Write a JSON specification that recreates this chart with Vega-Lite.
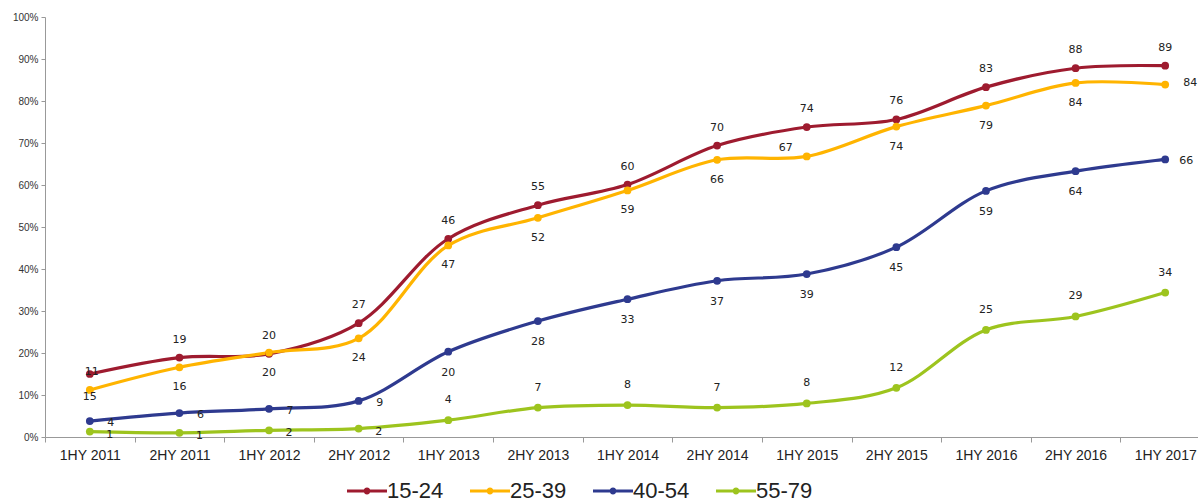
{
  "$schema": "https://vega.github.io/schema/vega-lite/v6.json",
  "autosize": "none",
  "padding": {"left": 45, "top": 17, "right": 0, "bottom": 66},
  "width": 1165,
  "height": 420,
  "background": "white",
  "config": {"view": {"stroke": null}, "font": "Liberation Sans"},
  "data": {"values": [
    {"period": "1HY 2011", "group": "15-24", "value": 15, "label": "11"},
    {"period": "2HY 2011", "group": "15-24", "value": 18.9, "label": "19"},
    {"period": "1HY 2012", "group": "15-24", "value": 19.8, "label": "20"},
    {"period": "2HY 2012", "group": "15-24", "value": 27.1, "label": "27"},
    {"period": "1HY 2013", "group": "15-24", "value": 47.2, "label": "46"},
    {"period": "2HY 2013", "group": "15-24", "value": 55.2, "label": "55"},
    {"period": "1HY 2014", "group": "15-24", "value": 60.1, "label": "60"},
    {"period": "2HY 2014", "group": "15-24", "value": 69.4, "label": "70"},
    {"period": "1HY 2015", "group": "15-24", "value": 73.8, "label": "74"},
    {"period": "2HY 2015", "group": "15-24", "value": 75.6, "label": "76"},
    {"period": "1HY 2016", "group": "15-24", "value": 83.3, "label": "83"},
    {"period": "2HY 2016", "group": "15-24", "value": 87.8, "label": "88"},
    {"period": "1HY 2017", "group": "15-24", "value": 88.4, "label": "89"},
    {"period": "1HY 2011", "group": "25-39", "value": 11.2, "label": "15"},
    {"period": "2HY 2011", "group": "25-39", "value": 16.6, "label": "16"},
    {"period": "1HY 2012", "group": "25-39", "value": 20.1, "label": "20"},
    {"period": "2HY 2012", "group": "25-39", "value": 23.5, "label": "24"},
    {"period": "1HY 2013", "group": "25-39", "value": 45.6, "label": "47"},
    {"period": "2HY 2013", "group": "25-39", "value": 52.2, "label": "52"},
    {"period": "1HY 2014", "group": "25-39", "value": 58.7, "label": "59"},
    {"period": "2HY 2014", "group": "25-39", "value": 66, "label": "66"},
    {"period": "1HY 2015", "group": "25-39", "value": 66.8, "label": "67"},
    {"period": "2HY 2015", "group": "25-39", "value": 73.9, "label": "74"},
    {"period": "1HY 2016", "group": "25-39", "value": 78.9, "label": "79"},
    {"period": "2HY 2016", "group": "25-39", "value": 84.3, "label": "84"},
    {"period": "1HY 2017", "group": "25-39", "value": 83.9, "label": "84"},
    {"period": "1HY 2011", "group": "40-54", "value": 3.8, "label": "4"},
    {"period": "2HY 2011", "group": "40-54", "value": 5.7, "label": "6"},
    {"period": "1HY 2012", "group": "40-54", "value": 6.7, "label": "7"},
    {"period": "2HY 2012", "group": "40-54", "value": 8.6, "label": "9"},
    {"period": "1HY 2013", "group": "40-54", "value": 20.3, "label": "20"},
    {"period": "2HY 2013", "group": "40-54", "value": 27.6, "label": "28"},
    {"period": "1HY 2014", "group": "40-54", "value": 32.8, "label": "33"},
    {"period": "2HY 2014", "group": "40-54", "value": 37.2, "label": "37"},
    {"period": "1HY 2015", "group": "40-54", "value": 38.8, "label": "39"},
    {"period": "2HY 2015", "group": "40-54", "value": 45.2, "label": "45"},
    {"period": "1HY 2016", "group": "40-54", "value": 58.6, "label": "59"},
    {"period": "2HY 2016", "group": "40-54", "value": 63.3, "label": "64"},
    {"period": "1HY 2017", "group": "40-54", "value": 66.1, "label": "66"},
    {"period": "1HY 2011", "group": "55-79", "value": 1.3, "label": "1"},
    {"period": "2HY 2011", "group": "55-79", "value": 1.0, "label": "1"},
    {"period": "1HY 2012", "group": "55-79", "value": 1.6, "label": "2"},
    {"period": "2HY 2012", "group": "55-79", "value": 2.0, "label": "2"},
    {"period": "1HY 2013", "group": "55-79", "value": 4.0, "label": "4"},
    {"period": "2HY 2013", "group": "55-79", "value": 7.0, "label": "7"},
    {"period": "1HY 2014", "group": "55-79", "value": 7.6, "label": "8"},
    {"period": "2HY 2014", "group": "55-79", "value": 7.0, "label": "7"},
    {"period": "1HY 2015", "group": "55-79", "value": 8.0, "label": "8"},
    {"period": "2HY 2015", "group": "55-79", "value": 11.7, "label": "12"},
    {"period": "1HY 2016", "group": "55-79", "value": 25.5, "label": "25"},
    {"period": "2HY 2016", "group": "55-79", "value": 28.7, "label": "29"},
    {"period": "1HY 2017", "group": "55-79", "value": 34.4, "label": "34"}
  ]},
  "encoding": {
    "x": {
      "field": "period", "type": "ordinal", "sort": null,
      "scale": {"type": "band", "paddingInner": 0, "paddingOuter": 0},
      "axis": {
        "title": null, "labelAngle": 0, "labelFontSize": 14, "labelColor": "#222",
        "labelFont": "Liberation Sans", "labelPadding": 6,
        "domainColor": "#999", "tickColor": "#999", "tickSize": 5, "tickBand": "extent",
        "grid": false
      }
    },
    "y": {
      "field": "value", "type": "quantitative",
      "scale": {"domain": [0, 100], "nice": false, "zero": true},
      "axis": {
        "title": null, "values": [0, 10, 20, 30, 40, 50, 60, 70, 80, 90, 100],
        "labelExpr": "datum.value + '%'", "labelFontSize": 10, "labelColor": "#333",
        "domainColor": "#999", "tickColor": "#999", "tickSize": 4, "labelPadding": 3,
        "grid": false
      }
    },
    "color": {
      "field": "group", "type": "nominal",
      "scale": {"domain": ["15-24", "25-39", "40-54", "55-79"], "range": ["#9E1B2F", "#FFB400", "#2E3A8F", "#9DC41E"]},
      "legend": {
        "title": null, "orient": "none", "legendX": 302, "legendY": 454,
        "direction": "horizontal", "labelFontSize": 22, "labelColor": "#222",
        "symbolType": "M-1,-0.08L1,-0.08L1,0.08L-1,0.08Z M0.17,0A0.17,0.17 0 1,1 -0.17,0A0.17,0.17 0 1,1 0.17,0Z",
        "symbolSize": 1600, "symbolStrokeWidth": 0, "labelOffset": 0, "columnPadding": 26,
        "encode": {"symbols": {"update": {"fill": {"scale": "color", "field": "value"}, "stroke": {"value": "transparent"}, "opacity": {"value": 1}}}}
      }
    }
  },
  "layer": [
    {"mark": {"type": "line", "interpolate": "catmull-rom", "strokeWidth": 3.2}},
    {"mark": {"type": "point", "shape": "circle", "filled": true, "size": 60, "opacity": 1}},
    {
      "transform": [{"filter": "datum.group == '15-24' && datum.period != '1HY 2011'"}],
      "mark": {"type": "text", "dy": -18, "fontSize": 11, "font": "DejaVu Sans", "color": "#222"},
      "encoding": {"text": {"field": "label"}, "color": {"value": "#222"}}
    },
    {
      "transform": [{"filter": "datum.group == '15-24' && datum.period == '1HY 2011'"}],
      "mark": {"type": "text", "dy": -2, "dx": 2, "fontSize": 11, "font": "DejaVu Sans", "color": "#222"},
      "encoding": {"text": {"field": "label"}, "color": {"value": "#222"}}
    },
    {
      "transform": [{"filter": "datum.group == '25-39' && indexof(['1HY 2011','1HY 2015','1HY 2017'], datum.period) < 0"}],
      "mark": {"type": "text", "dy": 20, "fontSize": 11, "font": "DejaVu Sans", "color": "#222"},
      "encoding": {"text": {"field": "label"}, "color": {"value": "#222"}}
    },
    {
      "transform": [{"filter": "datum.group == '25-39' && datum.period == '1HY 2011'"}],
      "mark": {"type": "text", "dy": 7, "fontSize": 11, "font": "DejaVu Sans", "color": "#222"},
      "encoding": {"text": {"field": "label"}, "color": {"value": "#222"}}
    },
    {
      "transform": [{"filter": "datum.group == '25-39' && datum.period == '1HY 2015'"}],
      "mark": {"type": "text", "dy": -8, "dx": -21, "fontSize": 11, "font": "DejaVu Sans", "color": "#222"},
      "encoding": {"text": {"field": "label"}, "color": {"value": "#222"}}
    },
    {
      "transform": [{"filter": "datum.group == '25-39' && datum.period == '1HY 2017'"}],
      "mark": {"type": "text", "dy": -2, "dx": 25, "fontSize": 11, "font": "DejaVu Sans", "color": "#222"},
      "encoding": {"text": {"field": "label"}, "color": {"value": "#222"}}
    },
    {
      "transform": [{"filter": "datum.group == '40-54' && indexof(['1HY 2011','2HY 2011','1HY 2012','2HY 2012','1HY 2017'], datum.period) < 0"}],
      "mark": {"type": "text", "dy": 21, "fontSize": 11, "font": "DejaVu Sans", "color": "#222"},
      "encoding": {"text": {"field": "label"}, "color": {"value": "#222"}}
    },
    {
      "transform": [{"filter": "datum.group == '40-54' && indexof(['1HY 2011','2HY 2011','1HY 2012','2HY 2012','1HY 2017'], datum.period) >= 0"}],
      "mark": {"type": "text", "dy": 2, "dx": 21, "fontSize": 11, "font": "DejaVu Sans", "color": "#222"},
      "encoding": {"text": {"field": "label"}, "color": {"value": "#222"}}
    },
    {
      "transform": [{"filter": "datum.group == '55-79' && indexof(['1HY 2011','2HY 2011','1HY 2012','2HY 2012'], datum.period) < 0"}],
      "mark": {"type": "text", "dy": -20, "fontSize": 11, "font": "DejaVu Sans", "color": "#222"},
      "encoding": {"text": {"field": "label"}, "color": {"value": "#222"}}
    },
    {
      "transform": [{"filter": "datum.group == '55-79' && indexof(['1HY 2011','2HY 2011','1HY 2012','2HY 2012'], datum.period) >= 0"}],
      "mark": {"type": "text", "dy": 3, "dx": 20, "fontSize": 11, "font": "DejaVu Sans", "color": "#222"},
      "encoding": {"text": {"field": "label"}, "color": {"value": "#222"}}
    }
  ]
}
